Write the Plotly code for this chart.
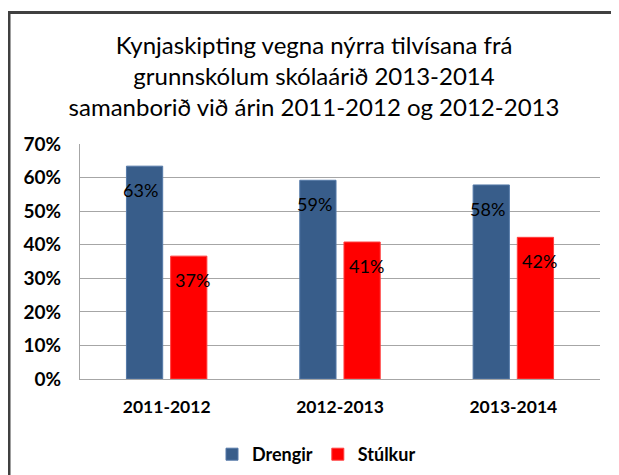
import plotly.graph_objects as go

categories = ["2011-2012", "2012-2013", "2013-2014"]
drengir = [0.634, 0.592, 0.578]
stulkur = [0.366, 0.408, 0.422]
drengir_labels = ["63%", "59%", "58%"]
stulkur_labels = ["37%", "41%", "42%"]
y_ticks = [0, 0.1, 0.2, 0.3, 0.4, 0.5, 0.6, 0.7]
title_text = ("Kynjaskipting vegna nýrra tilvísana frá<br>"
              "grunnskólum skólaárið 2013-2014<br>"
              "samanborið við árin 2011-2012 og 2012-2013")

# page body has an 8px margin, so the figure starts at (8, 8) on screen
W, H = 611, 467
ML, MR, MT, MB = 72, 19, 136, 96
PW, PH = W - ML - MR, H - MT - MB

def px_x(p):
    return (p - ML) / PW

def px_y(p):
    return (H - MB - p) / PH

FONT = "Lato"

fig = go.Figure()
fig.add_trace(go.Bar(
    name="Drengir", x=categories, y=drengir,
    marker=dict(color="#385D8A", line=dict(color="#5479A8", width=1)),
))
fig.add_trace(go.Bar(
    name="Stúlkur", x=categories, y=stulkur,
    marker=dict(color="#FF0000", line=dict(color="#FF4040", width=1)),
))

for series, labels, shift in ((drengir, drengir_labels, -26), (stulkur, stulkur_labels, 26)):
    for c, v, t in zip(categories, series, labels):
        fig.add_annotation(x=c, y=v, text=t, showarrow=False, xshift=shift, yshift=-24,
                           font=dict(family=FONT, size=18, color="black"))

fig.update_layout(
    width=W, height=H,
    margin=dict(l=ML, r=MR, t=MT, b=MB, autoexpand=False),
    paper_bgcolor="white", plot_bgcolor="white",
    barmode="group", bargap=0.49, bargroupgap=0.18,
    title=dict(text=title_text, x=306 / W, xref="container", xanchor="center",
               y=1 - 46 / H, yref="container", yanchor="top",
               font=dict(family=FONT, size=24, color="black")),
    font=dict(family=FONT, color="black"),
    legend=dict(orientation="h", x=204 / W, xref="container", y=1 - 428 / H, yref="container",
                xanchor="left", yanchor="top",
                font=dict(family=FONT, size=18, color="black", weight="bold"),
                itemwidth=30, tracegroupgap=0, traceorder="normal"),
    showlegend=True,
)
fig.update_yaxes(
    range=[0, 0.7], tickvals=y_ticks, tickformat=".0%",
    showgrid=True, gridcolor="#A6A6A6", gridwidth=1,
    showline=True, linecolor="#A6A6A6", linewidth=1,
    tickfont=dict(family=FONT, size=19, color="black", weight="bold"),
    ticks="", ticklabelstandoff=14, zeroline=False, automargin=False,
)
fig.update_xaxes(
    showline=True, linecolor="#A6A6A6", linewidth=1,
    tickfont=dict(family=FONT, size=17.5, color="black", weight="bold"),
    ticks="", ticklabelstandoff=12, automargin=False,
)
fig.add_shape(type="rect", xref="paper", yref="paper",
              x0=px_x(1), x1=px_x(640), y0=px_y(500), y1=px_y(4.5),
              line=dict(color="#404040", width=3), fillcolor="rgba(0,0,0,0)",
              layer="below")

fig.write_html("out.html")
